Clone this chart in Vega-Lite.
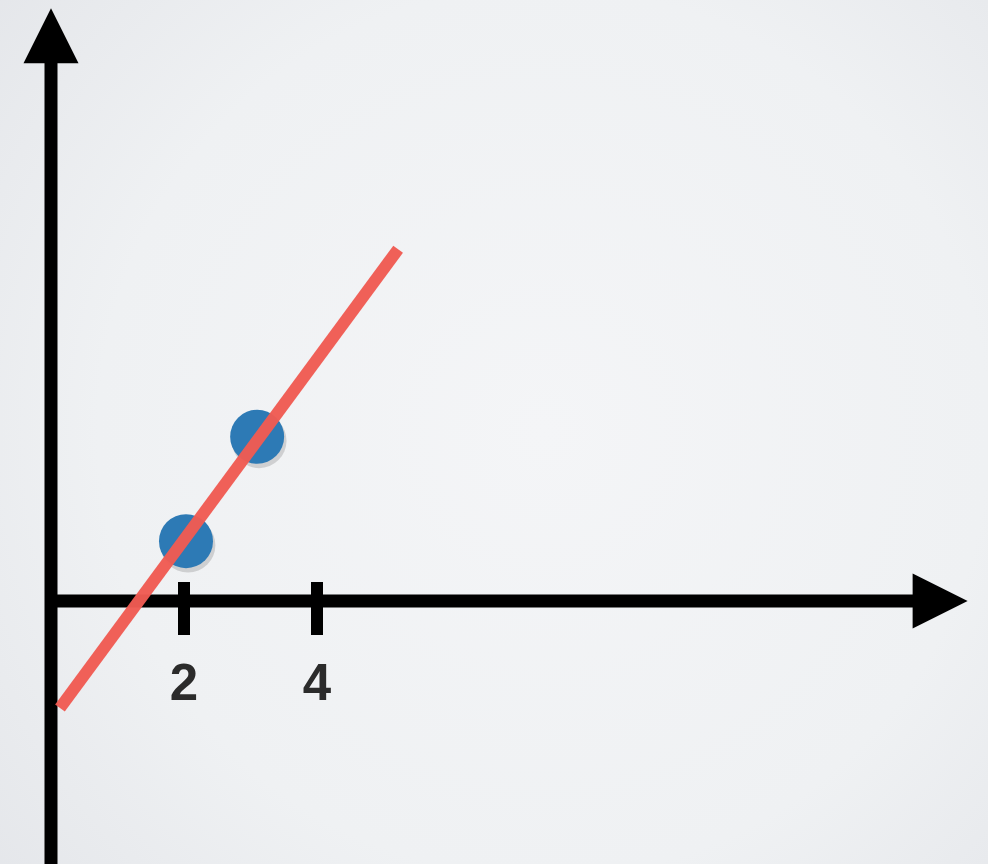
{
  "$schema": "https://vega.github.io/schema/vega-lite/v6.json",
  "width": 988,
  "height": 864,
  "autosize": {"type": "none"},
  "padding": 0,
  "background": "#eceef1",
  "config": {
    "view": {
      "stroke": null,
      "fill": {
        "gradient": "radial",
        "x1": 0.55, "y1": 0.5, "x2": 0.55, "y2": 0.5,
        "r1": 0, "r2": 0.75,
        "stops": [
          {"offset": 0, "color": "#f4f5f7"},
          {"offset": 0.6, "color": "#eff1f3"},
          {"offset": 1, "color": "#e3e5e9"}
        ]
      }
    }
  },
  "datasets": {
    "points": [
      {"x": 2.03, "y": 0.90},
      {"x": 3.10, "y": 2.47}
    ],
    "fit": [
      {"x": 0.135, "y": -1.61},
      {"x": 5.22, "y": 5.29}
    ],
    "ticks": [
      {"x": 2, "label": "2"},
      {"x": 4, "label": "4"}
    ]
  },
  "encoding": {},
  "layer": [
    {
      "data": {"values": [{}]},
      "mark": {"type": "rule", "color": "#000000", "strokeWidth": 13, "strokeCap": "butt"},
      "encoding": {
        "x": {"datum": 0, "type": "quantitative", "scale": {"domain": [-0.7669, 14.0902], "nice": false, "zero": false}, "axis": null},
        "y": {"datum": -4.5, "type": "quantitative", "scale": {"domain": [-3.9549, 9.0376], "nice": false, "zero": false}, "axis": null},
        "y2": {"datum": 8.12}
      }
    },
    {
      "data": {"values": [{}]},
      "mark": {"type": "rule", "color": "#000000", "strokeWidth": 13, "strokeCap": "butt"},
      "encoding": {
        "x": {"datum": -0.05, "type": "quantitative"},
        "x2": {"datum": 12.98},
        "y": {"datum": 0, "type": "quantitative"}
      }
    },
    {
      "data": {"values": [{}]},
      "mark": {"type": "point", "filled": true, "color": "#000000", "opacity": 1, "size": 3025, "shape": "M-1,1L1,1L0,-1Z", "strokeWidth": 0},
      "encoding": {
        "x": {"datum": 0, "type": "quantitative"},
        "y": {"datum": 8.5, "type": "quantitative"}
      }
    },
    {
      "data": {"values": [{}]},
      "mark": {"type": "point", "filled": true, "color": "#000000", "opacity": 1, "size": 3025, "shape": "M-1,-1L1,0L-1,1Z", "strokeWidth": 0},
      "encoding": {
        "x": {"datum": 13.37, "type": "quantitative"},
        "y": {"datum": 0, "type": "quantitative"}
      }
    },
    {
      "data": {"name": "ticks"},
      "mark": {"type": "rule", "color": "#000000", "strokeWidth": 12, "strokeCap": "butt"},
      "encoding": {
        "x": {"field": "x", "type": "quantitative"},
        "y": {"datum": 0.286, "type": "quantitative"},
        "y2": {"datum": -0.511}
      }
    },
    {
      "data": {"name": "ticks"},
      "mark": {"type": "text", "font": "Liberation Sans", "fontWeight": "bold", "fontSize": 51, "color": "#2b2b2b", "align": "center", "baseline": "alphabetic"},
      "encoding": {
        "x": {"field": "x", "type": "quantitative"},
        "y": {"datum": -1.49, "type": "quantitative"},
        "text": {"field": "label"}
      }
    },
    {
      "data": {"name": "points"},
      "mark": {"type": "point", "filled": true, "shape": "circle", "color": "#000000", "opacity": 0.14, "size": 3000, "xOffset": 2, "yOffset": 4, "strokeWidth": 0},
      "encoding": {
        "x": {"field": "x", "type": "quantitative"},
        "y": {"field": "y", "type": "quantitative"}
      }
    },
    {
      "data": {"name": "points"},
      "mark": {"type": "point", "filled": true, "shape": "circle", "color": "#2d7ab5", "opacity": 1, "size": 2916, "strokeWidth": 0},
      "encoding": {
        "x": {"field": "x", "type": "quantitative"},
        "y": {"field": "y", "type": "quantitative"}
      }
    },
    {
      "data": {"name": "fit"},
      "mark": {"type": "line", "color": "#ef5b53", "strokeWidth": 12, "strokeCap": "butt", "opacity": 0.97},
      "encoding": {
        "x": {"field": "x", "type": "quantitative"},
        "y": {"field": "y", "type": "quantitative"}
      }
    }
  ]
}
